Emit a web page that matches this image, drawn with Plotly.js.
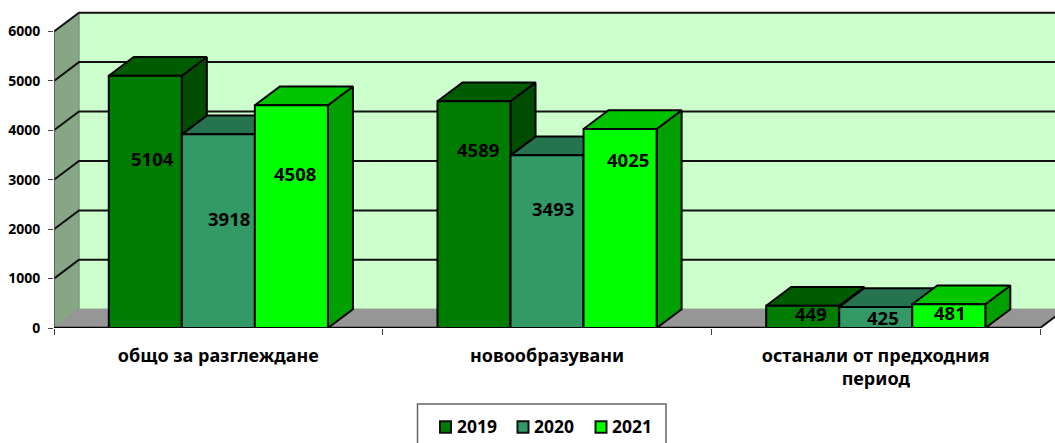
<!DOCTYPE html>
<html>
<head>
<meta charset="utf-8">
<script src="https://cdn.plot.ly/plotly-3.0.1.min.js"></script>
<style>html,body{margin:0;padding:0;background:#fff;overflow:hidden}</style>
</head>
<body>
<div id="chart" style="width:1055px;height:443px"></div>
<script>
var categories = ["общо за разглеждане", "новообразувани", "останали от предходния<br>период"];
var seriesNames = ["2019", "2020", "2021"];
var values2019 = [5104, 4589, 449];
var values2020 = [3918, 3493, 425];
var values2021 = [4508, 4025, 481];
var tickValues = [0, 1000, 2000, 3000, 4000, 5000, 6000];

var frontColors = ["#007C00", "#339966", "#00FF00"];
var topColors = ["#005C00", "#267350", "#00C400"];
var sideColors = ["#004C00", "#1F5F42", "#00A000"];
var labelShiftX = [[7, 4, 8], [11, 6, 7], [4, 8, 1]];
var labelShiftY = [[43, 65, 3], [13, 33, 0], [43, 69, 4]];

var W = 1055, H = 443, pxPerCat = 328.7, pxPerUnit = 0.0495;
var mL = 54, mT = 8, mB = 114.5;
var xRange = [-0.5, -0.5 + (W - mL) / pxPerCat];
var yRange = [0, (H - mB - mT) / pxPerUnit];
var dx = 25 / pxPerCat, dy = 18.8 / pxPerUnit;
var barW = 2 / 9;
var allValues = [values2019, values2020, values2021];
var xL = -0.5, xR = categories.length - 0.5, yTop = tickValues[tickValues.length - 1];

function poly(x, y, fill, lineColor, lineWidth, clip) {
  return {type: "scatter", mode: "lines", x: x, y: y, xaxis: "x", yaxis: "y",
    fill: fill ? "toself" : "none", fillcolor: fill || undefined,
    line: {color: lineColor, width: lineWidth}, hoverinfo: "skip", showlegend: false,
    cliponaxis: clip !== false};
}

var traces = [];
// walls and floor
traces.push(poly([xL + dx, xR + dx, xR + dx, xL + dx, xL + dx], [dy, dy, yTop + dy, yTop + dy, dy], "#CCFFCC", "#8FAF8F", 1));
traces.push(poly([xL, xL + dx, xL + dx, xL, xL], [0, dy, yTop + dy, yTop, 0], "#86A686", "#7A8F7A", 1));
traces.push(poly([xL, xR, xR + dx, xL + dx, xL], [0, 0, dy, dy, 0], "#969696", "#969696", 1));
// grid lines across side wall and back wall
var gx = [], gy = [];
tickValues.slice(1).forEach(function (v) {
  gx.push(xL, xL + dx, xR + dx, null);
  gy.push(v, v + dy, v + dy, null);
});
traces.push(poly(gx, gy, null, "#111111", 2));
traces.push(poly([xR, xR + dx], [0, dy], null, "#111111", 2));

// depth faces of bars
allValues.forEach(function (vals, s) {
  var sx = [], sy = [], tx = [], ty = [];
  vals.forEach(function (v, c) {
    var x0 = c + (s - 1.5) * barW, x1 = x0 + barW;
    sx.push(x1, x1 + dx, x1 + dx, x1, x1, null);
    sy.push(0, dy, v + dy, v, 0, null);
    tx.push(x0, x0 + dx, x1 + dx, x1, x0, null);
    ty.push(v, v + dy, v + dy, v, v, null);
  });
  traces.push(poly(sx, sy, sideColors[s], "#000000", 2));
  traces.push(poly(tx, ty, topColors[s], "#000000", 2));
});
// axis lines
traces.push(poly([xL, xL], [0, yTop], null, "#555555", 1.5, false));

// front faces
allValues.forEach(function (vals, s) {
  traces.push({type: "bar", name: seriesNames[s], x: categories, y: vals, xaxis: "x2", yaxis: "y2",
    marker: {color: frontColors[s], line: {color: "#000000", width: 2}}, hoverinfo: "skip", showlegend: false});
});
traces.push({type: "scatter", mode: "lines", x: [xL, xR], y: [0, 0], xaxis: "x", yaxis: "y2",
  line: {color: "#000000", width: 2.5}, hoverinfo: "skip", showlegend: false, cliponaxis: false});

var fontFam = "'Noto Sans', sans-serif";
var annotations = [];
allValues.forEach(function (vals, s) {
  vals.forEach(function (v, c) {
    annotations.push({xref: "x", yref: "y", x: c + (s - 1) * barW, y: v / 2, text: String(v), showarrow: false,
      xshift: labelShiftX[s][c], yshift: labelShiftY[s][c], font: {family: fontFam, size: 18.5, weight: 700, color: "#000"}});
  });
});

// legend box: paper coordinates span the plot area
var px = function (v) { return (v - mL) / (W - mL); }, py = function (v) { return 1 - (v - mT) / (H - mT - mB); };
var shapes = [{type: "rect", xref: "paper", yref: "paper", x0: px(417.5), x1: px(666), y0: py(450), y1: py(404.5),
  line: {color: "#666666", width: 1.5}, fillcolor: "#FFFFFF", layer: "above"}];
var legendSwatch = [440, 517.5, 595.5], legendText = [454.5, 532, 610];
seriesNames.forEach(function (n, s) {
  shapes.push({type: "rect", xref: "paper", yref: "paper", x0: px(legendSwatch[s]), x1: px(legendSwatch[s] + 11),
    y0: py(433.5), y1: py(422), line: {color: "#111111", width: 2}, fillcolor: frontColors[s], layer: "above"});
  annotations.push({xref: "paper", yref: "paper", x: px(legendText[s]), y: py(427), xanchor: "left", yanchor: "middle",
    text: n, showarrow: false, font: {family: fontFam, size: 17.5, weight: 700, color: "#000"}});
});

var layout = {
  width: W, height: H, margin: {l: mL, r: 0, t: mT, b: mB, pad: 0},
  paper_bgcolor: "#FFFFFF", plot_bgcolor: "rgba(0,0,0,0)",
  barmode: "group", bargap: 1 / 3, bargroupgap: 0, showlegend: false,
  hovermode: false,
  xaxis: {type: "linear", range: xRange, tickmode: "array", tickvals: [xL, 0.5, 1.5, xR], ticktext: ["", "", "", ""],
    ticks: "outside", ticklen: 6, tickwidth: 1, tickcolor: "#444", showgrid: false, zeroline: false, showline: false, showticklabels: false},
  xaxis2: {type: "category", overlaying: "x", anchor: "y2", side: "bottom", range: xRange, tickmode: "array",
    tickvals: categories, ticktext: categories, ticks: "", showgrid: false, zeroline: false, showline: false, ticklabelstandoff: 15,
    tickangle: 0, tickfont: {family: fontFam, size: 18, weight: 700, color: "#000"}},
  yaxis: {range: yRange, tickmode: "array", tickvals: tickValues, ticks: "outside", ticklen: 5, tickwidth: 1, tickcolor: "#444",
    showgrid: false, zeroline: false, showline: false, tickfont: {family: fontFam, size: 14, weight: 700, color: "#000"}, ticklabelstandoff: 5},
  yaxis2: {range: yRange, overlaying: "y", anchor: "x2", visible: false, showgrid: false, zeroline: false},
  annotations: annotations, shapes: shapes
};
Plotly.newPlot("chart", traces, layout, {displayModeBar: false, staticPlot: true});
</script>
</body>
</html>
